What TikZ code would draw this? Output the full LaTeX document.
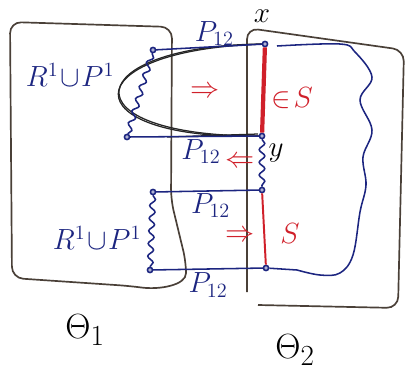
\documentclass[tikz,border=0pt]{standalone}
\usepackage{tikz}
\usetikzlibrary{calc, positioning, decorations.pathmorphing}
\usepackage{xcolor}
\definecolor{ink}{HTML}{1C2580}
\definecolor{pen}{HTML}{4A4038}
\definecolor{marker}{HTML}{D0202A}

\begin{document}
\begin{tikzpicture}[x=0.025cm, y=-0.025cm,
    pt/.style={circle, draw=ink, fill=ink!35, line width=1.1pt, inner sep=0pt, minimum size=0.13cm},
    link/.style={draw=ink, line width=1.1pt, shorten <=-1pt, shorten >=-1pt},
    wig/.style={draw=ink, line width=1.1pt, decorate,
      decoration={snake, amplitude=2pt, segment length=9pt}},
    box/.style={draw=pen, line width=1.2pt, rounded corners=8pt},
    lbl/.style={text=ink, font=\huge},
    plbl/.style={text=ink, font=\huge},
    redlbl/.style={text=marker, font=\huge}]
  \useasboundingbox (0,0) rectangle (409,377);

  % the two regions
  \draw[box] (12,278) -- (10,22) -- (172,27) -- (171,200) -- (186,262)
    .. controls (186,285) and (160,290) .. (130,286) -- cycle;
  \draw[box] (247,292) -- (247,28) -- (404,50) -- (398,308) -- (258,305);

  % points on the boundary paths
  \node[pt] (a1) at (153,50) {};
  \node[pt] (b1) at (265,44) {};
  \node[pt] (a2) at (127,137) {};
  \node[pt] (b2) at (262,136) {};
  \node[pt] (c1) at (153,192) {};
  \node[pt] (c2) at (262,190) {};
  \node[pt] (d1) at (150,270) {};
  \node[pt] (d2) at (266,268) {};
  \coordinate (r0) at (277,46);

  % black loop
  \begin{scope}[draw=black!85, line width=0.9pt]
    \draw (b1) .. controls (72,50) and (70,140) .. (b2);
    \draw (b1) .. controls (80,46) and (64,136) .. (b2);
    \draw ($(b2)+(-4,-2)$) -- ($(a2)+(40,0)$);
  \end{scope}

  % blue paths
  \draw[link] (a1) -- (b1) node[pos=0.55, above=-3pt, plbl] {$P_{12}$};
  \draw[link] (a2) -- (b2) node[pos=0.55, below=-2pt, plbl] {$P_{12}$};
  \draw[link] (c1) -- (c2) node[pos=0.53, below=-2pt, plbl] {$P_{12}$};
  \draw[link] (d1) -- (d2) node[pos=0.5, below=-1pt, plbl] {$P_{12}$};
  \draw[wig] (a1) -- (a2);
  \draw[wig] (b2) -- (c2);
  \draw[wig] (c1) -- (d1);
  \draw[draw=ink, line width=1.1pt] plot[smooth, tension=0.6] coordinates
    {(r0) (340,44) (355,52) (372,77) (360,100) (372,130) (363,157)
     (366,185) (360,212) (353,255) (340,273) (320,275) (297,270)} -- (d2);

  % red pieces of S
  \draw[marker, line width=3pt] (b1) -- (b2);
  \draw[marker, line width=1.4pt] (c2) -- (d2);

  % labels
  \node[lbl] (ru1) at (70,75) {$R^1\!\cup\! P^1$};
  \node[lbl] (ru2) at (97,238) {$R^1\!\cup\! P^1$};
  \node[redlbl] (m1) at (205,92) {$\Rightarrow$};
  \node[redlbl] (m2) at (292,98) {$\in\! S$};
  \node[redlbl] (m3) at (240,162) {$\Leftarrow$};
  \node[redlbl] (m4) at (240,236) {$\Rightarrow$};
  \node[redlbl] (m5) at (290,234) {$S$};
  \node[font=\huge] (y) at (276,153) {$y$};
  \node[font=\huge, inner sep=0pt] (x) at (262,16) {$x$};
  \node[font=\Huge] (t1) at (85,330) {$\Theta_1$};
  \node[font=\Huge] (t2) at (295,350) {$\Theta_2$};
\end{tikzpicture}
\end{document}
